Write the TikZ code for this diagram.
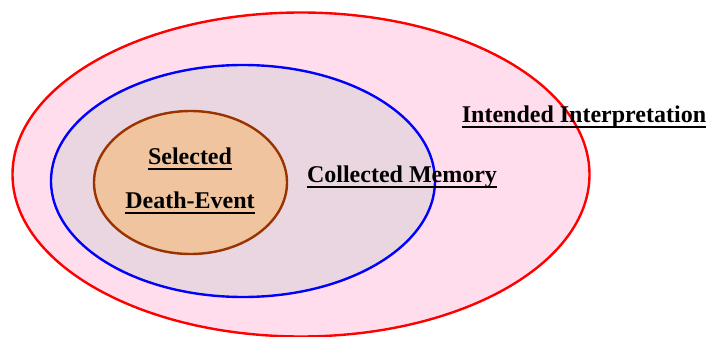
\documentclass[tikz,border=0pt]{standalone}
\usepackage{fontspec}
\setmainfont{Liberation Serif}
\usepackage{tikz}
\usetikzlibrary{shapes.geometric}
\definecolor{outerpink}{RGB}{255,221,236}
\definecolor{memgray}{RGB}{234,214,224}
\definecolor{eventtan}{RGB}{240,196,158}
\definecolor{eventbrown}{RGB}{153,51,0}
\newcommand{\uword}[1]{\setbox0\hbox{#1}\rlap{\rule[-6pt]{\wd0}{2.2pt}}\box0}

\begin{document}
\begin{tikzpicture}[x=1pt,y=-1pt,set/.style n args={4}{ellipse,draw=#1,fill=#2,line width=2.4pt,minimum width=#3pt,minimum height=#4pt,inner sep=0pt},lbl/.style={anchor=base,inner sep=0pt,font=\fontsize{24}{24}\selectfont\bfseries}]
\useasboundingbox (0,0) rectangle (707,337);
\node[set={red}{outerpink}{577}{324}] (interp) at (301,174.5) {};
\node[set={blue}{memgray}{384}{232}] (memory) at (243,181) {};
\node[set={eventbrown}{eventtan}{193}{143}] (event) at (190.5,182.5) {};
\node[lbl] (selected) at (190,164) {\uword{Selected}};
\node[lbl] (death) at (190,208) {\uword{Death-Event}};
\node[lbl] (collected) at (402,182) {\uword{Collected Memory}};
\node[lbl] (intended) at (584,122) {\uword{Intended Interpretation}};
\end{tikzpicture}
\end{document}
